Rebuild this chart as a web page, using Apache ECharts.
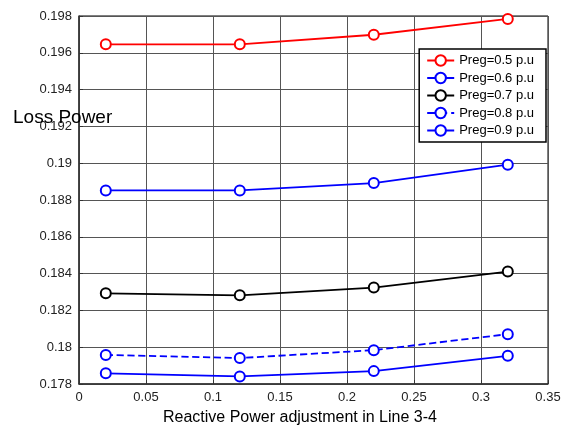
<!DOCTYPE html>
<html><head><meta charset="utf-8">
<script src="https://cdn.jsdelivr.net/npm/echarts@6/dist/echarts.min.js"></script>
<style>html,body{margin:0;padding:0;background:#fff}#c{width:567px;height:433px}</style>
</head><body><div id="c"></div>
<script>
const xValues = [0.02, 0.12, 0.22, 0.32];
const seriesNames = ['Preg=0.5 p.u','Preg=0.6 p.u','Preg=0.7 p.u','Preg=0.8 p.u','Preg=0.9 p.u'];
const preg05 = [0.19646, 0.19646, 0.19698, 0.19784];
const preg06 = [0.18852, 0.18852, 0.18892, 0.18992];
const preg07 = [0.18293, 0.18282, 0.18324, 0.18411];
const preg08 = [0.17958, 0.17941, 0.17984, 0.18071];
const preg09 = [0.17858, 0.17841, 0.17870, 0.17953];
const colors = ['#ff0000','#0000ff','#000000','#0000ff','#0000ff'];
const dashes = ['solid','solid','solid','dashed','solid'];
const allData = [preg05, preg06, preg07, preg08, preg09];

const chart = echarts.init(document.getElementById('c'));
const font = 'Liberation Sans, Arial, sans-serif';
chart.setOption({
  animation: false,
  grid: {left: 79, right: 19, top: 16, bottom: 49, show: true, borderColor: '#000', borderWidth: 1},
  legend: {
    orient: 'vertical', right: 21, top: 49, backgroundColor: '#fff',
    borderColor: '#000', borderWidth: 1.5, borderRadius: 0,
    padding: [5, 12, 5, 7], itemGap: 4.5, itemWidth: 27, itemHeight: 13,
    textStyle: {fontFamily: font, fontSize: 13, color: '#000'},
    data: seriesNames
  },
  xAxis: {
    type: 'value', min: 0, max: 0.35, interval: 0.05,
    axisLine: {onZero: false, lineStyle: {color: '#333', width: 1.5}},
    axisTick: {inside: true, length: 4, lineStyle: {color: '#333'}},
    axisLabel: {fontFamily: font, fontSize: 13, color: '#222', margin: 7},
    splitLine: {show: true, lineStyle: {color: '#555', width: 1}}
  },
  yAxis: {
    type: 'value', min: 0.178, max: 0.198, interval: 0.002,
    axisLine: {show: true, onZero: false, lineStyle: {color: '#333', width: 1.5}},
    axisTick: {show: true, inside: true, length: 4, lineStyle: {color: '#333'}},
    axisLabel: {fontFamily: font, fontSize: 13, color: '#222', margin: 7},
    splitLine: {show: true, lineStyle: {color: '#555', width: 1}}
  },
  graphic: [
    {type: 'text', left: 13, top: 108, z: 100, style: {text: 'Loss Power', font: '19px Liberation Sans, Arial, sans-serif', fill: '#000'}},
    {type: 'text', left: 163, top: 410, style: {text: 'Reactive Power adjustment in Line 3-4', font: '16px Liberation Sans, Arial, sans-serif', fill: '#000'}}
  ],
  series: allData.map((d, i) => ({
    name: seriesNames[i], type: 'line',
    data: xValues.map((x, j) => [x, d[j]]),
    symbol: 'emptyCircle', symbolSize: 10,
    lineStyle: {color: colors[i], width: 1.8, type: dashes[i]},
    itemStyle: {color: colors[i], borderColor: colors[i], borderWidth: 2},
    z: 3
  }))
});
</script></body></html>
